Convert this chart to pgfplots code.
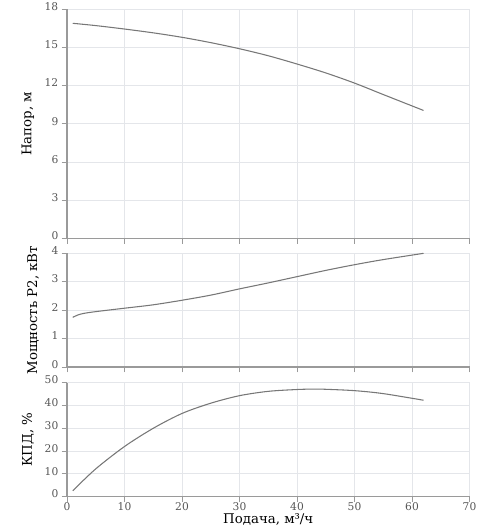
\documentclass[border=0pt]{standalone}
\usepackage{fontspec}
\setmainfont{DejaVu Serif}
\usepackage{pgfplots}
\pgfplotsset{compat=1.18}
\definecolor{axgray}{HTML}{9A9A9A}
\definecolor{gridgray}{HTML}{E4E6EA}
\definecolor{txtgray}{HTML}{555555}
\definecolor{curve}{HTML}{777777}
\pgfplotsset{
  panel/.style={
    scale only axis,
    width=301.9pt,
    xmin=0, xmax=70,
    xtick={0,10,...,70},
    axis x line=bottom, axis y line=left,
    axis line style={-, draw=axgray, line width=1.1pt},
    grid=major,
    grid style={gridgray, line width=0.7pt},
    tick style={axgray, line width=0.7pt},
    tick align=outside,
    major tick length=4pt,
    /pgf/number format/assume math mode=true,
    ticklabel style={font=\fontsize{8}{9}\selectfont, text=txtgray},
    yticklabel style={yshift=2pt, xshift=1pt},
    xticklabel style={yshift=3.2pt},
    label style={font=\fontsize{7.2}{9}\selectfont, text=txtgray},
    every axis y label/.style={at={(axis description cs:-0.097,0.5)}, rotate=90, anchor=center},
    clip=false,
  },
  curvestyle/.style={curve, line width=0.8pt, smooth, no markers},
}
\begin{document}
\begin{tikzpicture}
\path[use as bounding box] (0,0) rectangle (360pt,-399pt);
% Head
\begin{axis}[panel, at={(50.25pt,-6.98pt)}, anchor=north west, height=171.75pt,
  ymin=0, ymax=18, ytick={0,3,...,18}, xticklabels={},
  ylabel={Напор, м}]
\addplot[curvestyle] coordinates {(1,16.9)(5,16.72)(10,16.45)(15,16.15)(20,15.8)(25,15.38)(30,14.9)(35,14.35)(40,13.7)(45,13.0)(50,12.2)(55,11.3)(62,10.05)};
\end{axis}
% Power
\begin{axis}[panel, at={(50.25pt,-190pt)}, anchor=north west, height=85.3pt,
  ymin=0, ymax=4, ytick={0,1,...,4}, xticklabels={},
  ylabel={Мощность P2, кВт},
  every axis y label/.style={at={(axis description cs:-0.0845,0.5)}, rotate=90, anchor=center}]
\addplot[curvestyle] coordinates {(1,1.75)(2,1.84)(3,1.89)(5,1.95)(10,2.07)(15,2.19)(20,2.35)(25,2.53)(30,2.75)(35,2.96)(40,3.18)(45,3.4)(50,3.6)(55,3.78)(62,4.0)};
\end{axis}
% Efficiency
\begin{axis}[panel, at={(50.25pt,-287pt)}, anchor=north west, height=85.5pt,
  ymin=0, ymax=50, ytick={0,10,...,50},
  ylabel={КПД, \%},
  xlabel={Подача, м³/ч},
  every axis x label/.style={at={(axis description cs:0.5,-0.2)}, anchor=center}]
\addplot[curvestyle] coordinates {(1,2.6)(5,12.2)(10,22)(15,30)(20,36.5)(25,41)(30,44.3)(35,46.2)(40,47)(43,47.2)(45,47.1)(50,46.5)(55,45.2)(62,42.3)};
\end{axis}
\end{tikzpicture}
\end{document}
